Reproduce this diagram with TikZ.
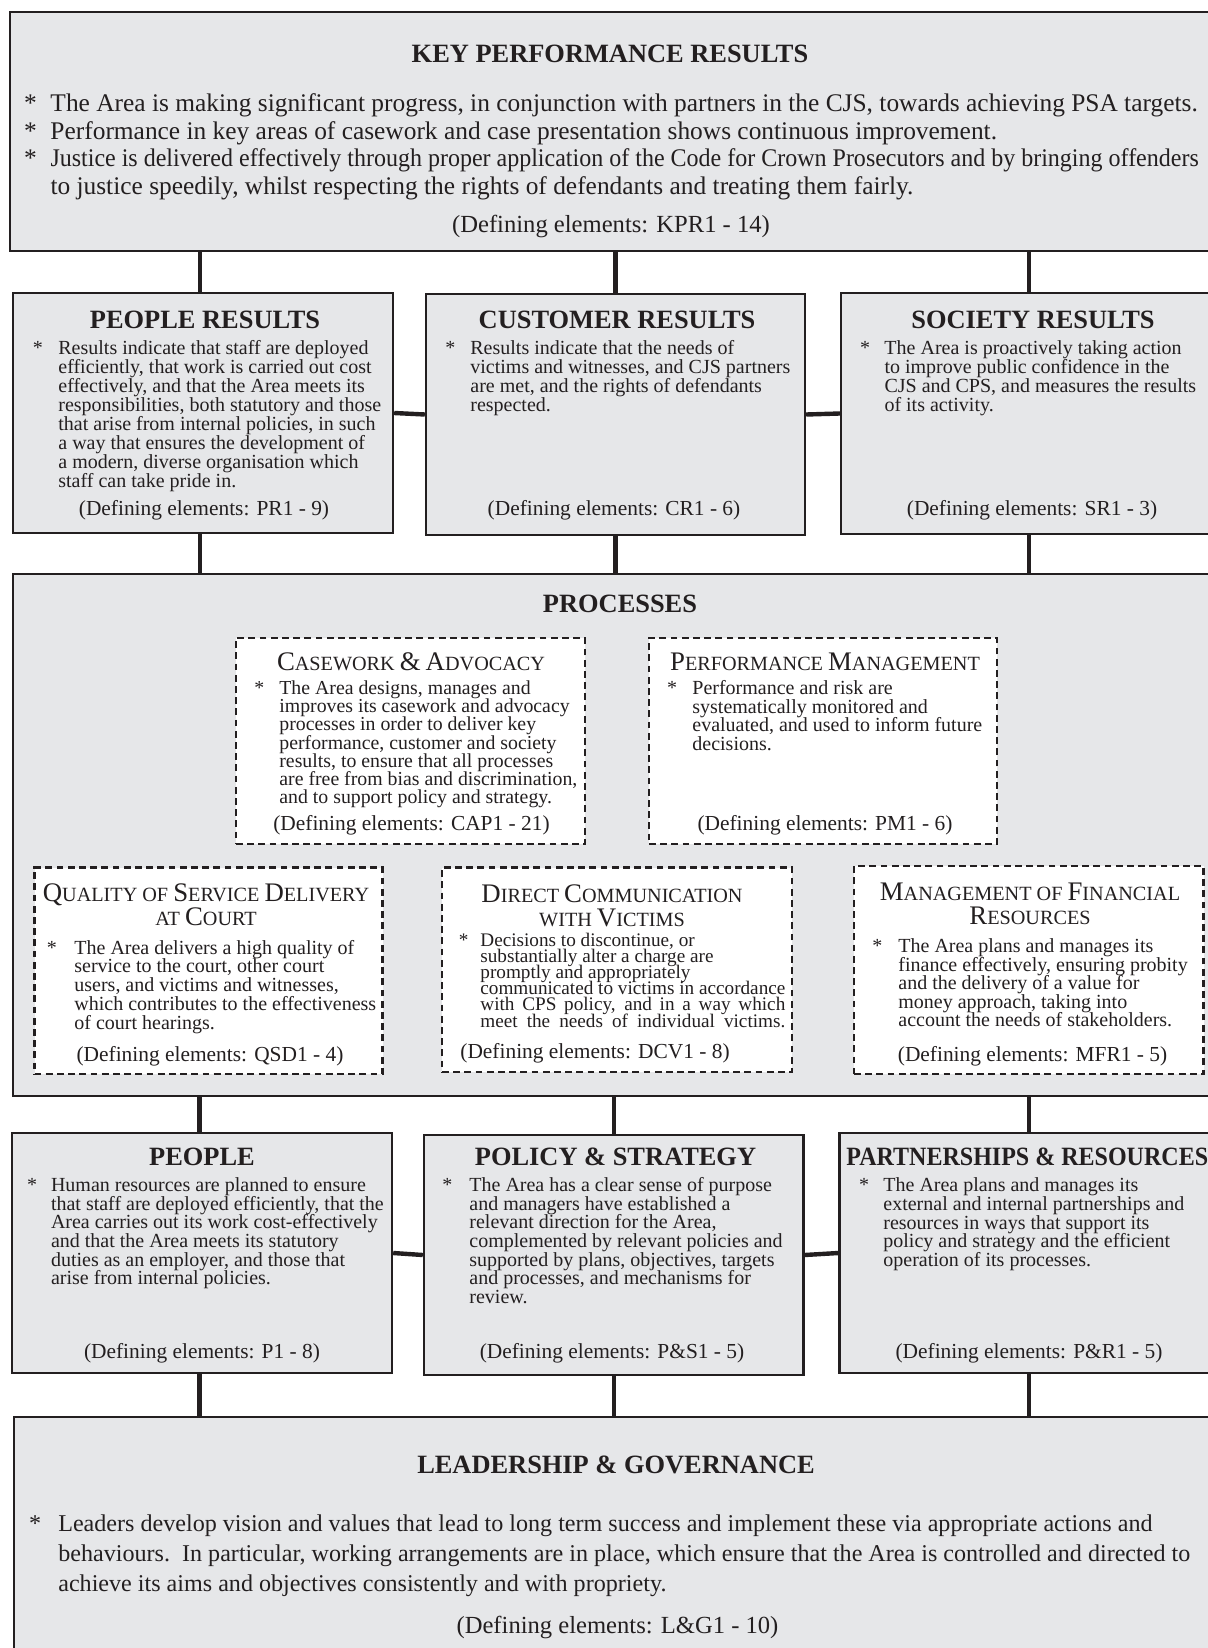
\documentclass[tikz,border=0pt]{standalone}
\usepackage{fontspec}
\setmainfont{Liberation Serif}
\usetikzlibrary{fit,backgrounds}

\definecolor{boxgray}{RGB}{230,231,233}
\definecolor{ink}{RGB}{35,31,32}

% bullet with hanging indent, hand-made small caps, text blocks
\newcommand{\bul}[1]{\hangindent=#1\hangafter=1\noindent\makebox[#1][l]{*}}
\newcommand{\scl}[2]{{\fontsize{13.4}{13}\selectfont #1}#2}
\newcommand{\btext}[1]{\parbox[t]{700pt}{\lineskiplimit=-20pt #1}}
\newcommand{\ttext}[1]{\parbox[t]{250pt}{\centering #1}}
\newlength{\dcvw}

\begin{document}
\begin{tikzpicture}[
    x=0.5pt, y=-0.5pt,
    bigbox/.style={rectangle, draw=ink, fill=boxgray, line width=1.2pt, inner sep=0pt},
    procbox/.style={rectangle, draw=ink, fill=white, line width=1.3pt, dash pattern=on 3.4pt off 2.2pt, inner sep=0pt},
    link/.style={draw=ink, line width=2.2pt},
    head/.style={anchor=base, inner sep=0pt, text=ink, font=\fontsize{13.2}{15}\selectfont\bfseries},
    sctitle/.style={anchor=base, inner sep=0pt, text=ink, font=\fontsize{10.1}{12}\selectfont},
    txt/.style={anchor=base west, inner sep=0pt, text=ink, font=\fontsize{10}{#1}\selectfont},
    txt/.default=9.4pt,
    bigtxt/.style={anchor=base west, inner sep=0pt, text=ink, font=\fontsize{12.7}{#1}\selectfont},
    foot/.style={anchor=base, inner sep=0pt, text=ink, font=\fontsize{10.7}{12}\selectfont},
    bigfoot/.style={foot, font=\fontsize{12.3}{14}\selectfont}
]
\useasboundingbox (0,0) rectangle (1208,1648);
\clip (0,0) rectangle (1208,1648);

% Key performance results
\node[bigbox, fit={(10,12) (1220,251)}] (kpr) {};
\node[head] (kprh) at (610,63) {KEY PERFORMANCE RESULTS};
\node[bigtxt=13.75pt] (kprb) at (23.7,112) {\btext{%
\bul{13.2pt}The Area is making significant progress, in conjunction with partners in the CJS, towards achieving PSA targets.\par
\bul{13.2pt}Performance in key areas of casework and case presentation shows continuous improvement.\par
\bul{13.2pt}\scalebox{0.945}[1]{Justice is delivered effectively through proper application of the Code for Crown Prosecutors and by bringing offenders}\\to justice speedily, whilst respecting the rights of defendants and treating them fairly.}};
\node[bigfoot] (kprf) at (611,233) {(Defining elements: KPR1 - 14)};

% Results
\node[bigbox, fit={(13,293) (393,533)}] (pr) {};
\node[head] (prh) at (205,328) {PEOPLE RESULTS};
\node[txt=9.5pt] (prb) at (32.5,354) {\btext{\bul{12.75pt}Results indicate that staff are deployed\\efficiently, that work is carried out cost\\effectively, and that the Area meets its\\responsibilities, both statutory and those\\that arise from internal policies, in such\\a way that ensures the development of\\a modern, diverse organisation which\\staff can take pride in.}};
\node[foot] (prf) at (204,515) {(Defining elements: PR1 - 9)};

\node[bigbox, fit={(426,294) (805,535)}] (cr) {};
\node[head] (crh) at (617,328) {CUSTOMER RESULTS};
\node[txt=9.5pt] (crb) at (445,354) {\btext{\bul{12.5pt}Results indicate that the needs of\\victims and witnesses, and CJS partners\\are met, and the rights of defendants\\respected.}};
\node[foot] (crf) at (614,515) {(Defining elements: CR1 - 6)};

\node[bigbox, fit={(841,293) (1217,534)}] (sr) {};
\node[head] (srh) at (1033,328) {SOCIETY RESULTS};
\node[txt=9.5pt] (srb) at (859.7,354) {\btext{\bul{12.2pt}The Area is proactively taking action\\to improve public confidence in the\\CJS and CPS, and measures the results\\of its activity.}};
\node[foot] (srf) at (1032,515) {(Defining elements: SR1 - 3)};

% Processes
\node[bigbox, fit={(13,574) (1220,1096)}] (proc) {};
\node[head] (proch) at (620,612) {PROCESSES};

\node[procbox, fit={(236,638) (585,844)}] (cap) {};
\node[sctitle] (caph) at (411,670) {\scl{C}{ASEWORK} \scl{\&}{} \scl{A}{DVOCACY}};
\node[txt=9.1pt, font=\fontsize{9.9}{9.1}\selectfont] (capb) at (254,694.5) {\btext{\bul{12.5pt}The Area designs, manages and\\improves its casework and advocacy\\processes in order to deliver key\\performance, customer and society\\results, to ensure that all processes\\are free from bias and discrimination,\\and to support policy and strategy.}};
\node[foot] (capf) at (411.5,830.5) {(Defining elements: CAP1 - 21)};

\node[procbox, fit={(649,638) (997,844)}] (pm) {};
\node[sctitle] (pmh) at (825,670) {\scl{P}{ERFORMANCE} \scl{M}{ANAGEMENT}};
\node[txt=9.3pt] (pmb) at (666.7,694.5) {\btext{\bul{12.65pt}Performance and risk are\\systematically monitored and\\evaluated, and used to inform future\\decisions.}};
\node[foot] (pmf) at (825,830) {(Defining elements: PM1 - 6)};

\node[procbox, fit={(34.5,867.5) (382.5,1074)}] (qsd) {};
\node[sctitle] (qsdh) at (206,901) {\ttext{\scl{Q}{UALITY OF} \scl{S}{ERVICE} \scl{D}{ELIVERY}\\AT \scl{C}{OURT}}};
\node[txt=9.4pt] (qsdb) at (46.4,954) {\btext{\bul{13.8pt}The Area delivers a high quality of\\service to the court, other court\\users, and victims and witnesses,\\which contributes to the effectiveness\\of court hearings.}};
\node[foot] (qsdf) at (210,1061.5) {(Defining elements: QSD1 - 4)};

\node[procbox, fit={(442,867.5) (792,1072)}] (dcv) {};
\node[sctitle] (dcvh) at (612,902) {\ttext{\scl{D}{IRECT} \scl{C}{OMMUNICATION}\\WITH \scl{V}{ICTIMS}}};
\node[txt, font=\fontsize{9.6}{8.05}\selectfont] (dcvb) at (458.5,946.5) {\btext{\settowidth{\dcvw}{communicated to victims in accordance}%
\bul{10.75pt}Decisions to discontinue, or\\substantially alter a charge are\\promptly and appropriately\\communicated to victims in accordance\\\makebox[\dcvw][s]{with CPS policy, and in a way which}\\\makebox[\dcvw][s]{meet the needs of individual victims.}}};
\node[foot] (dcvf) at (595,1058) {(Defining elements: DCV1 - 8)};

\node[procbox, fit={(854,866) (1203.5,1074)}] (mfr) {};
\node[sctitle] (mfrh) at (1030,900) {\ttext{\scl{M}{ANAGEMENT OF} \scl{F}{INANCIAL}\\\scl{R}{ESOURCES}}};
\node[txt=9.25pt] (mfrb) at (872,952.5) {\btext{\bul{13pt}The Area plans and manages its\\finance effectively, ensuring probity\\and the delivery of a value for\\money approach, taking into\\account the needs of stakeholders.}};
\node[foot] (mfrf) at (1032.5,1061.5) {(Defining elements: MFR1 - 5)};

% Enablers
\node[bigbox, fit={(12,1133) (392,1373)}] (ppl) {};
\node[head] (pplh) at (202,1165) {PEOPLE};
\node[txt=9.3pt] (pplb) at (26.6,1191.7) {\btext{\bul{12pt}Human resources are planned to ensure\\that staff are deployed efficiently, that the\\Area carries out its work cost-effectively\\and that the Area meets its statutory\\duties as an employer, and those that\\arise from internal policies.}};
\node[foot] (pplf) at (202,1358) {(Defining elements: P1 - 8)};

\node[bigbox, fit={(424,1135) (803.5,1375)}] (ps) {};
\node[head] (psh) at (615.5,1165) {POLICY \& STRATEGY};
\node[txt=9.3pt] (psb) at (442,1191.7) {\btext{\bul{13.5pt}The Area has a clear sense of purpose\\and managers have established a\\relevant direction for the Area,\\complemented by relevant policies and\\supported by plans, objectives, targets\\and processes, and mechanisms for\\review.}};
\node[foot] (psf) at (612,1358) {(Defining elements: P\&S1 - 5)};

\node[bigbox, fit={(839.5,1133) (1218,1373)}] (prs) {};
\node[head, anchor=base west] (prsh) at (846,1165) {\scalebox{0.91}[1]{PARTNERSHIPS \& RESOURCES}};
\node[txt=9.375pt] (prsb) at (858.6,1191.7) {\btext{\bul{12.2pt}The Area plans and manages its\\external and internal partnerships and\\resources in ways that support its\\policy and strategy and the efficient\\operation of its processes.}};
\node[foot] (prsf) at (1029,1358) {(Defining elements: P\&R1 - 5)};

% Leadership
\node[bigbox, fit={(14,1417) (1220,1670)}] (lg) {};
\node[head] (lgh) at (616,1473) {LEADERSHIP \& GOVERNANCE};
\node[bigtxt=15pt, font=\fontsize{12.05}{15}\selectfont] (lgb) at (28.7,1531) {\btext{\bul{14.6pt}Leaders develop vision and values that lead to long term success and implement these via appropriate actions and\\behaviours.\ \ In particular, working arrangements are in place, which ensure that the Area is controlled and directed to\\achieve its aims and objectives consistently and with propriety.}};
\node[bigfoot] (lgf) at (617.5,1633) {(Defining elements: L\&G1 - 10)};

% Connections
\begin{scope}[on background layer]
\draw[link] ([xshift=-1.5pt]kpr.south -| pr.north) -- ([xshift=-1.5pt]pr.north);
\draw[link] (kpr.south -| cr.north) -- (cr.north);
\draw[link] (kpr.south -| sr.north) -- (sr.north);
\draw[link] (pr.east) -- (cr.west);
\draw[link] (cr.east) -- (sr.west);
\draw[link] ([xshift=-1.5pt]pr.south) -- ([xshift=-1.5pt]pr.south |- proc.north);
\draw[link] (cr.south) -- (cr.south |- proc.north);
\draw[link] (sr.south) -- (sr.south |- proc.north);
\draw[link] ([xshift=-1.2pt]proc.south -| ppl.north) -- ([xshift=-1.2pt]ppl.north);
\draw[link] (proc.south -| ps.north) -- (ps.north);
\draw[link] (proc.south -| prs.north) -- (prs.north);
\draw[link] (ppl.east) -- (ps.west);
\draw[link] (ps.east) -- (prs.west);
\draw[link] ([xshift=-1.2pt]ppl.south) -- ([xshift=-1.2pt]ppl.south |- lg.north);
\draw[link] (ps.south) -- (ps.south |- lg.north);
\draw[link] (prs.south) -- (prs.south |- lg.north);
\end{scope}
\end{tikzpicture}
\end{document}
